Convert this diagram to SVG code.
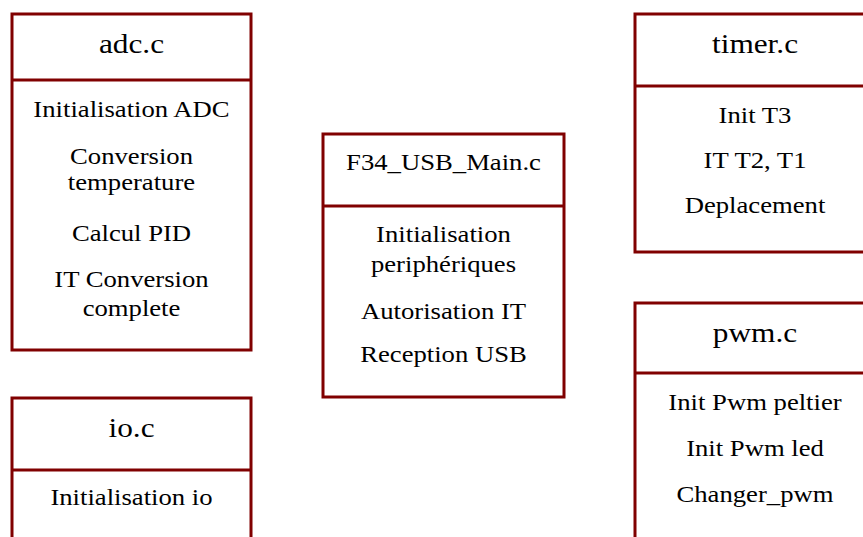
<svg xmlns="http://www.w3.org/2000/svg" width="863" height="537" viewBox="0 0 863 537">
<style>
.box{fill:#fff;stroke:#800000;stroke-width:3}
.div{stroke:#800000;stroke-width:3}
text{font-family:"Liberation Serif","Times New Roman",serif;fill:#000;text-anchor:middle}
.t{font-size:27px}
.ts{font-size:23px}
.b{font-size:23px}
</style>
<rect width="863" height="537" fill="#fff"/>
<g id="connectors"></g>
<g id="adc">
<rect class="box" x="12" y="14" width="239" height="336"/>
<line class="div" x1="12" y1="80" x2="251" y2="80"/>
<text class="t" transform="translate(131.5,53) scale(1.16,1)">adc.c</text>
<text class="b" transform="translate(131.5,117) scale(1.16,1)">Initialisation ADC</text>
<text class="b" transform="translate(131.5,164) scale(1.16,1)">Conversion</text>
<text class="b" transform="translate(131.5,190) scale(1.16,1)">temperature</text>
<text class="b" transform="translate(131.5,241) scale(1.16,1)">Calcul PID</text>
<text class="b" transform="translate(131.5,287) scale(1.16,1)">IT Conversion</text>
<text class="b" transform="translate(131.5,316) scale(1.16,1)">complete</text>
</g>
<g id="io">
<rect class="box" x="12" y="398" width="239" height="160"/>
<line class="div" x1="12" y1="470" x2="251" y2="470"/>
<text class="t" transform="translate(131.5,437) scale(1.16,1)">io.c</text>
<text class="b" transform="translate(131.5,505) scale(1.16,1)">Initialisation io</text>
</g>
<g id="main">
<rect class="box" x="323" y="134" width="241" height="263"/>
<line class="div" x1="323" y1="206" x2="564" y2="206"/>
<text class="ts" transform="translate(443.5,170) scale(1.16,1)">F34_USB_Main.c</text>
<text class="b" transform="translate(443.5,242) scale(1.16,1)">Initialisation</text>
<text class="b" transform="translate(443.5,272) scale(1.16,1)">periphériques</text>
<text class="b" transform="translate(443.5,319) scale(1.16,1)">Autorisation IT</text>
<text class="b" transform="translate(443.5,362) scale(1.16,1)">Reception USB</text>
</g>
<g id="timer">
<rect class="box" x="635" y="14" width="240" height="238"/>
<line class="div" x1="635" y1="86" x2="875" y2="86"/>
<text class="t" transform="translate(755,53) scale(1.16,1)">timer.c</text>
<text class="b" transform="translate(755,123) scale(1.16,1)">Init T3</text>
<text class="b" transform="translate(755,168) scale(1.16,1)">IT T2, T1</text>
<text class="b" transform="translate(755,213) scale(1.16,1)">Deplacement</text>
</g>
<g id="pwm">
<rect class="box" x="635" y="303" width="240" height="260"/>
<line class="div" x1="635" y1="373" x2="875" y2="373"/>
<text class="t" transform="translate(755,342) scale(1.16,1)">pwm.c</text>
<text class="b" transform="translate(755,410) scale(1.16,1)">Init Pwm peltier</text>
<text class="b" transform="translate(755,456) scale(1.16,1)">Init Pwm led</text>
<text class="b" transform="translate(755,502) scale(1.16,1)">Changer_pwm</text>
</g>
</svg>
